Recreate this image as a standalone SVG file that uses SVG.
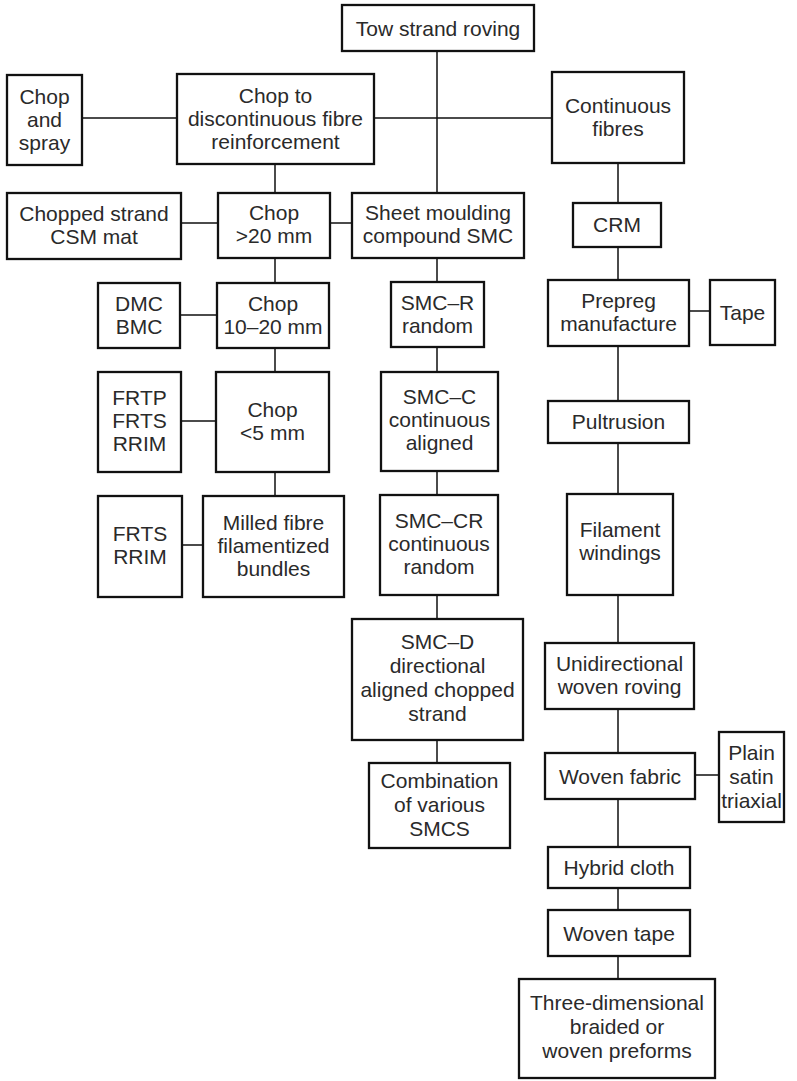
<svg xmlns="http://www.w3.org/2000/svg" width="797" height="1081" viewBox="0 0 797 1081">
<style>
.b{fill:#fff;stroke:#111;stroke-width:2.3}
.t{font-family:"Liberation Sans",Arial,sans-serif;font-size:21px;fill:#2a2a2a;text-anchor:middle}
.c{stroke:#111;stroke-width:1.5;fill:none}
</style>
<rect width="797" height="1081" fill="#fff"/>
<g id="connectors" class="c">
<path d="M437 51V193M437 258V282M437 347V371M437 471V495M437 595V619M437 740V763"/>
<path d="M374 118H552M82 118H177"/>
<path d="M275 164V193M275 258V283M275 348V372M275 472V496"/>
<path d="M181 223H218M330 223H352M180 315H217M181 421H216M182 545H203"/>
<path d="M618 163V203M618 247V280M618 346V401M618 443V494M618 595V643M618 709V753M618 799V847M618 888V910M618 956V979"/>
<path d="M689 311H710M695 775H719"/>
</g>
<g id="tow"><rect class="b" x="342" y="5" width="192" height="46"/><text class="t" x="438" y="36">Tow strand roving</text></g>
<g id="chopspray"><rect class="b" x="7" y="75" width="75" height="90"/><text class="t" x="44.5" y="104">Chop</text><text class="t" x="44.5" y="127">and</text><text class="t" x="44.5" y="150">spray</text></g>
<g id="chopto"><rect class="b" x="177" y="74" width="197" height="90"/><text class="t" x="275.5" y="103">Chop to</text><text class="t" x="275.5" y="126">discontinuous fibre</text><text class="t" x="275.5" y="149">reinforcement</text></g>
<g id="continuous"><rect class="b" x="552" y="72" width="132" height="91"/><text class="t" x="618" y="113">Continuous</text><text class="t" x="618" y="136">fibres</text></g>
<g id="csm"><rect class="b" x="7" y="193" width="174" height="66"/><text class="t" x="94" y="221">Chopped strand</text><text class="t" x="94" y="244">CSM mat</text></g>
<g id="chop20"><rect class="b" x="218" y="193" width="112" height="65"/><text class="t" x="274" y="220">Chop</text><text class="t" x="274" y="243">&gt;20 mm</text></g>
<g id="smc"><rect class="b" x="352" y="193" width="172" height="65"/><text class="t" x="438" y="220">Sheet moulding</text><text class="t" x="438" y="243">compound SMC</text></g>
<g id="crm"><rect class="b" x="573" y="203" width="88" height="44"/><text class="t" x="617" y="232">CRM</text></g>
<g id="dmc"><rect class="b" x="98" y="283" width="82" height="65"/><text class="t" x="139" y="311">DMC</text><text class="t" x="139" y="334">BMC</text></g>
<g id="chop1020"><rect class="b" x="217" y="283" width="112" height="65"/><text class="t" x="273" y="311">Chop</text><text class="t" x="273" y="334">10–20 mm</text></g>
<g id="smcr"><rect class="b" x="391" y="282" width="93" height="65"/><text class="t" x="437.5" y="310">SMC–R</text><text class="t" x="437.5" y="333">random</text></g>
<g id="prepreg"><rect class="b" x="548" y="280" width="141" height="66"/><text class="t" x="618.5" y="308">Prepreg</text><text class="t" x="618.5" y="331">manufacture</text></g>
<g id="tape"><rect class="b" x="710" y="280" width="65" height="65"/><text class="t" x="742.5" y="320">Tape</text></g>
<g id="frtp"><rect class="b" x="98" y="372" width="83" height="100"/><text class="t" x="139.5" y="405">FRTP</text><text class="t" x="139.5" y="428">FRTS</text><text class="t" x="139.5" y="451">RRIM</text></g>
<g id="chop5"><rect class="b" x="216" y="372" width="113" height="100"/><text class="t" x="272.5" y="417">Chop</text><text class="t" x="272.5" y="440">&lt;5 mm</text></g>
<g id="smcc"><rect class="b" x="381" y="372" width="117" height="99"/><text class="t" x="439.5" y="404">SMC–C</text><text class="t" x="439.5" y="427">continuous</text><text class="t" x="439.5" y="450">aligned</text></g>
<g id="pultrusion"><rect class="b" x="548" y="401" width="141" height="42"/><text class="t" x="618.5" y="429">Pultrusion</text></g>
<g id="frts"><rect class="b" x="98" y="496" width="84" height="101"/><text class="t" x="140" y="541">FRTS</text><text class="t" x="140" y="564">RRIM</text></g>
<g id="milled"><rect class="b" x="203" y="496" width="141" height="101"/><text class="t" x="273.5" y="530">Milled fibre</text><text class="t" x="273.5" y="553">filamentized</text><text class="t" x="273.5" y="576">bundles</text></g>
<g id="smccr"><rect class="b" x="380" y="495" width="118" height="100"/><text class="t" x="439" y="528">SMC–CR</text><text class="t" x="439" y="551">continuous</text><text class="t" x="439" y="574">random</text></g>
<g id="filament"><rect class="b" x="567" y="494" width="106" height="101"/><text class="t" x="620" y="537">Filament</text><text class="t" x="620" y="560">windings</text></g>
<g id="smcd"><rect class="b" x="352" y="619" width="171" height="121"/><text class="t" x="437.5" y="649">SMC–D</text><text class="t" x="437.5" y="673">directional</text><text class="t" x="437.5" y="697">aligned chopped</text><text class="t" x="437.5" y="721">strand</text></g>
<g id="unidir"><rect class="b" x="545" y="643" width="149" height="66"/><text class="t" x="619.5" y="671">Unidirectional</text><text class="t" x="619.5" y="694">woven roving</text></g>
<g id="wovenfabric"><rect class="b" x="545" y="753" width="150" height="46"/><text class="t" x="620" y="784">Woven fabric</text></g>
<g id="plain"><rect class="b" x="719" y="732" width="65" height="90"/><text class="t" x="751.5" y="760">Plain</text><text class="t" x="751.5" y="784">satin</text><text class="t" x="751.5" y="808">triaxial</text></g>
<g id="combination"><rect class="b" x="369" y="763" width="141" height="85"/><text class="t" x="439.5" y="788">Combination</text><text class="t" x="439.5" y="812">of various</text><text class="t" x="439.5" y="836">SMCS</text></g>
<g id="hybrid"><rect class="b" x="548" y="847" width="142" height="41"/><text class="t" x="619" y="875">Hybrid cloth</text></g>
<g id="wovental"><rect class="b" x="548" y="910" width="142" height="46"/><text class="t" x="619" y="941">Woven tape</text></g>
<g id="threed"><rect class="b" x="519" y="979" width="196" height="99"/><text class="t" x="617" y="1010">Three-dimensional</text><text class="t" x="617" y="1034">braided or</text><text class="t" x="617" y="1058">woven preforms</text></g>
</svg>
